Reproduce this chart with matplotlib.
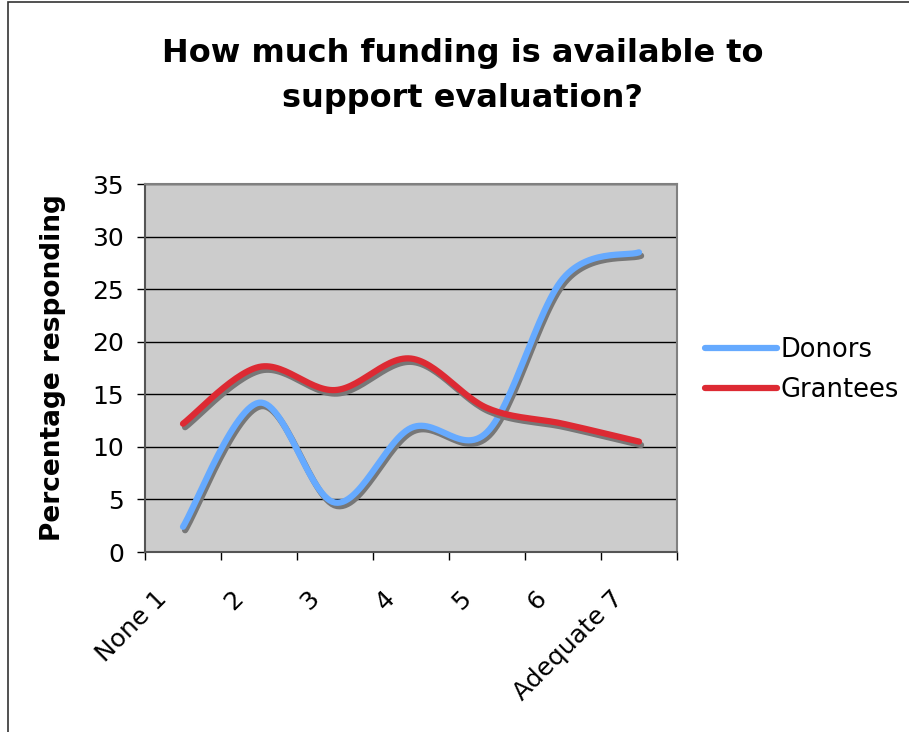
import matplotlib
matplotlib.use("Agg")
import matplotlib.pyplot as plt
import matplotlib.patheffects as pe
from matplotlib.patches import Rectangle
from matplotlib.transforms import ScaledTranslation
import numpy as np

CATEGORIES = ["None 1", "2", "3", "4", "5", "6", "Adequate 7"]
DONORS = [2.4, 14.2, 4.7, 11.8, 11.4, 26.0, 28.5]
GRANTEES = [12.2, 17.6, 15.4, 18.4, 13.7, 12.2, 10.5]
SERIES_NAMES = ["Donors", "Grantees"]
COLORS = ["#66AAFF", "#DD2A33"]


def smooth(xs, ys, steps=30):
    # Catmull-Rom style bezier through every point, like a spreadsheet "smoothed line"
    pts = np.column_stack([xs, ys]).astype(float)
    ext = np.vstack([pts[0], pts, pts[-1]])
    out = []
    t = np.linspace(0, 1, steps)[:, None]
    for i in range(len(pts) - 1):
        p0, p1, p2, p3 = ext[i], ext[i + 1], ext[i + 2], ext[i + 3]
        c1 = p1 + (p2 - p0) / 6
        c2 = p2 - (p3 - p1) / 6
        seg = ((1 - t) ** 3) * p1 + 3 * ((1 - t) ** 2) * t * c1 \
            + 3 * (1 - t) * t ** 2 * c2 + t ** 3 * p2
        out.append(seg if i == 0 else seg[1:])
    seg = np.vstack(out)
    return seg[:, 0], seg[:, 1]


def main():
    fig = plt.figure(figsize=(9.09, 7.32), dpi=100)
    W, H = 909, 732

    # outer chart border
    fig.patches.append(Rectangle((8 / W, -0.05), 1.2, 1.05 - 1.5 / H,
                                 transform=fig.transFigure, fill=False,
                                 edgecolor="#333333", linewidth=1.2))

    ax = fig.add_axes([145 / W, (H - 552) / H, (677 - 145) / W, (552 - 184) / H])
    ax.set_facecolor("#CCCCCC")
    for s in ax.spines.values():
        s.set_color("#808080")
        s.set_linewidth(1.5)
    ax.spines["left"].set_color("#555555")
    ax.spines["bottom"].set_color("#555555")

    x = np.arange(len(CATEGORIES))
    for vals, name, col in zip([DONORS, GRANTEES], SERIES_NAMES, COLORS):
        sx, sy = smooth(x, vals)
        ax.plot(sx, sy, color=col, linewidth=4.5, solid_capstyle="round",
                label=name, zorder=3,
                path_effects=[pe.SimpleLineShadow(offset=(1.5, -2.5),
                                                  shadow_color="#777777", alpha=1),
                              pe.Normal()])

    ax.set_xlim(-0.5, len(CATEGORIES) - 0.5)
    ax.set_ylim(0, 35)
    ax.set_yticks(range(0, 36, 5))
    ax.yaxis.grid(True, color="black", linewidth=1)
    ax.set_axisbelow(True)
    ax.tick_params(axis="y", labelsize=18, length=6, width=1, direction="out", pad=9)

    ax.set_xticks(np.arange(-0.5, len(CATEGORIES), 1))
    ax.set_xticklabels([])
    ax.tick_params(axis="x", length=6, width=1, direction="out")
    ax.set_xticks(x, minor=True)
    ax.set_xticklabels(CATEGORIES, minor=True, rotation=45, ha="right", va="center",
                       rotation_mode="anchor", fontsize=18)
    ax.tick_params(axis="x", which="minor", length=0, pad=31)
    shift = ScaledTranslation(-20 / 100, 0, fig.dpi_scale_trans)
    for lab in ax.get_xticklabels(minor=True):
        lab.set_transform(lab.get_transform() + shift)

    ax.set_ylabel("Percentage responding", fontsize=19, fontweight="bold")
    ax.yaxis.set_label_coords((66 - 145) / 532, 0.5)

    fig.text(463 / W, 1 - 76 / H, "How much funding is available to\nsupport evaluation?",
             ha="center", va="center", fontsize=23, fontweight="bold", linespacing=1.6)

    leg = fig.legend(loc="upper left", bbox_to_anchor=(705 / W, 1 - 337 / H),
                     frameon=False, borderpad=0, borderaxespad=0,
                     fontsize=18.5, handlelength=2.8, handletextpad=0.15, labelspacing=0.54)
    for line in leg.get_lines():
        line.set_linewidth(4.5)
        line.set_path_effects([])

    fig.savefig("out.png", dpi=100)


if __name__ == "__main__":
    main()
